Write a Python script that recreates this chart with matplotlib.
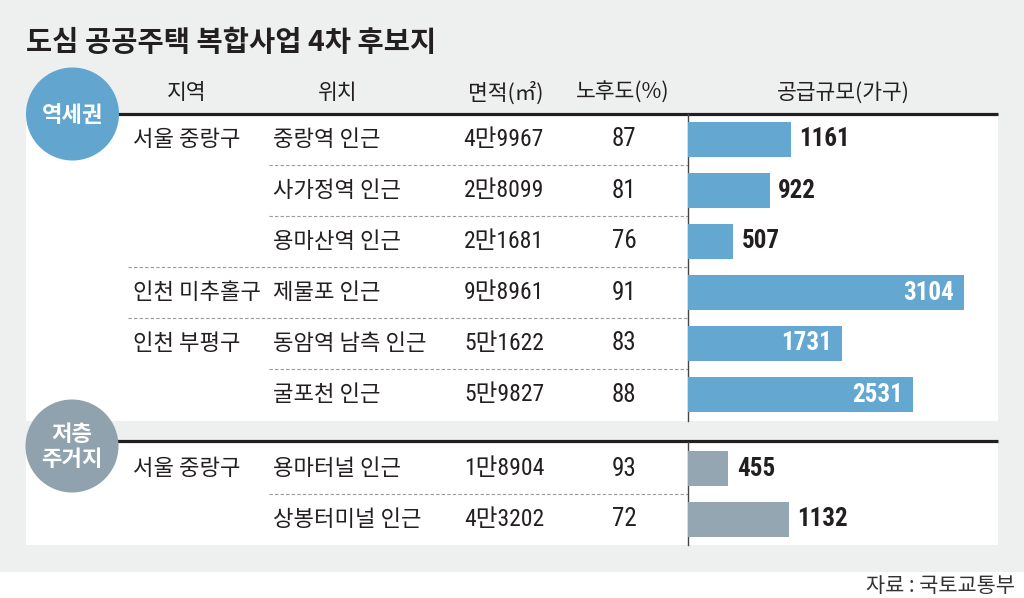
import matplotlib
matplotlib.use("Agg")
import matplotlib.pyplot as plt
from matplotlib.patches import Rectangle, Circle

# ---------------- data ----------------
title = "도심 공공주택 복합사업 4차 후보지"
headers = ["지역", "위치", "면적(㎡)", "노후도(%)", "공급규모(가구)"]
groups = ["역세권", "저층\n주거지"]
group_of_row = [0, 0, 0, 0, 0, 0, 1, 1]
regions = ["서울 중랑구", "", "", "인천 미추홀구", "인천 부평구", "", "서울 중랑구", ""]
locations = ["중랑역 인근", "사가정역 인근", "용마산역 인근", "제물포 인근",
             "동암역 남측 인근", "굴포천 인근", "용마터널 인근", "상봉터미널 인근"]
areas = ["4만9967", "2만8099", "2만1681", "9만8961", "5만1622", "5만9827", "1만8904", "4만3202"]
decay = [87, 81, 76, 91, 83, 88, 93, 72]
supply = [1161, 922, 507, 3104, 1731, 2531, 455, 1132]
source = "자료 : 국토교통부"

# ---------------- style ----------------
KR = ["Noto Sans CJK KR", "DejaVu Sans"]
NUM = ["Roboto Condensed", "Noto Sans CJK KR", "DejaVu Sans"]
TXT = "#231f20"
BG = "#eef0f0"
GROUP_COL = ["#64a8d2", "#93a6b1"]
CIRCLE_COL = ["#62a5cf", "#8fa2ad"]

W, H = 1024, 598
fig = plt.figure(figsize=(W / 100, H / 100), dpi=100)
fig.patch.set_facecolor("white")
ax = fig.add_axes([0, 0, 1, 1])
ax.set_xlim(0, W)
ax.set_ylim(H, 0)
ax.axis("off")

# layout (pixels)
row_y = [139.5 + 51 * i for i in range(6)] + [468.5, 519.5]
panel_left, panel_right = 26, 998
bar_x0 = 688

# backgrounds
ax.add_patch(Rectangle((0, 0), W, 572, facecolor=BG, edgecolor="none", zorder=0))
ax.add_patch(Rectangle((panel_left, 114), panel_right - panel_left, 421 - 114,
                       facecolor="white", edgecolor="none", zorder=1))
ax.add_patch(Rectangle((panel_left, 442), panel_right - panel_left, 545 - 442,
                       facecolor="white", edgecolor="none", zorder=1))

# thick header lines
ax.plot([118, panel_right], [114, 114], color=TXT, lw=2.3, zorder=3, solid_capstyle="butt")
ax.plot([104, panel_right], [441, 441], color=TXT, lw=2.3, zorder=3, solid_capstyle="butt")

# vertical divider
ax.plot([bar_x0, bar_x0], [114, 421], color="#444444", lw=1.0, zorder=3)
ax.plot([bar_x0, bar_x0], [442, 545], color="#444444", lw=1.0, zorder=3)

# dashed separators
for i in range(len(row_y) - 1):
    if group_of_row[i] != group_of_row[i + 1]:
        continue
    y = (row_y[i] + row_y[i + 1]) / 2
    x0 = 128 if regions[i + 1] else 269
    ax.plot([x0, bar_x0], [y, y], color="#9a9a9a", lw=0.8, ls=(0, (3, 2)), zorder=2)

# group circles
circle_centers = [(72.5, 114), (72, 446)]
for g, (cx, cy) in enumerate(circle_centers):
    ax.add_patch(Circle((cx, cy), 46.5, facecolor=CIRCLE_COL[g], edgecolor="none", zorder=4))
    ax.text(cx, cy + 1, groups[g], ha="center", va="center", color="white",
            fontsize=16, fontweight="bold", family=KR, zorder=5, linespacing=1.1)

# title
ax.text(26, 43, title, ha="left", va="center", fontsize=20.5, fontweight="bold",
        family=KR, color=TXT, zorder=5)

# headers
header_x = [187, 338, 506, 623, 843]
for hx, h in zip(header_x, headers):
    ax.text(hx, 93, h, ha="center", va="center", fontsize=15.5, family=KR,
            color=TXT, zorder=5)

# table cells
for i, y in enumerate(row_y):
    if regions[i]:
        ax.text(133, y, regions[i], ha="left", va="center", fontsize=16, family=KR,
                color=TXT, zorder=5)
    ax.text(273, y, locations[i], ha="left", va="center", fontsize=16, family=KR,
            color=TXT, zorder=5)
    ax.text(544, y, areas[i], ha="right", va="center", fontsize=17, family=NUM,
            color=TXT, zorder=5)
    ax.text(624, y, str(decay[i]), ha="center", va="center", fontsize=18, family=NUM,
            color=TXT, zorder=5)

# source
ax.text(1015, 586, source, ha="right", va="center", fontsize=15, family=KR,
        color="#333333", zorder=5)

# ---------------- bars ----------------
bx = fig.add_axes([bar_x0 / W, 0, (panel_right - bar_x0) / W, 1])
bx.set_xlim(0, 3490)
bx.set_ylim(H, 0)
bx.axis("off")
bx.patch.set_alpha(0)
colors = [GROUP_COL[g] for g in group_of_row]
bx.barh(row_y, supply, height=35, color=colors, edgecolor="none", zorder=3)
for y, v in zip(row_y, supply):
    if v > 1500:
        bx.annotate(str(v), (v, y), xytext=(-7, 0), textcoords="offset points",
                    ha="right", va="center", fontsize=18, fontweight="bold",
                    family=NUM, color="white", zorder=4)
    else:
        bx.annotate(str(v), (v, y), xytext=(6, 0), textcoords="offset points",
                    ha="left", va="center", fontsize=18, fontweight="bold",
                    family=NUM, color=TXT, zorder=4)

fig.savefig("out.png", dpi=100, facecolor=fig.get_facecolor())
